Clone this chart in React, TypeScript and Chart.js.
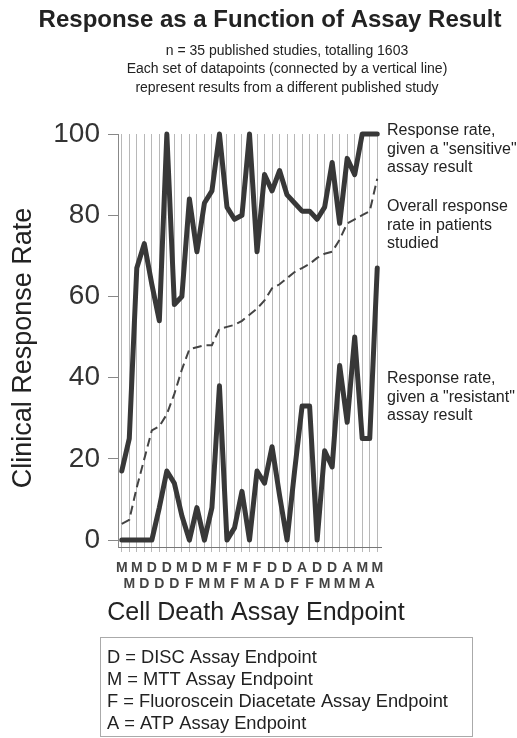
import React, { useEffect, useRef } from "react";
import { Chart, registerables } from "chart.js";

Chart.register(...registerables);

const FONT = '"Liberation Sans", Arial, Helvetica, sans-serif';

const categories = [
  "M", "M", "M", "D", "D", "D", "D", "D", "M", "F",
  "D", "M", "M", "M", "F", "F", "M", "M", "F", "A",
  "D", "D", "D", "F", "A", "F", "D", "M", "D", "M",
  "A", "M", "M", "A", "M",
];

const sensitive = [
  17, 25, 67, 73, 63, 54, 100, 58, 60, 84,
  71, 83, 86, 100, 82, 79, 80, 100, 71, 90,
  86, 91, 85, 83, 81, 81, 79, 82, 93, 78,
  94, 90, 100, 100, 100,
];

const overall = [
  4, 5, 13, 20, 27, 28, 31, 36, 42, 47,
  47.5, 48, 48, 52, 52.5, 53, 54, 55.5, 57, 59,
  62, 63, 64.5, 66, 67, 68, 69.5, 70.5, 71, 74,
  78, 79, 80, 81, 89,
];

const resistant = [
  0, 0, 0, 0, 0, 8, 17, 14, 6, 0,
  8, 0, 8, 38, 0, 3, 12, 0, 17, 14,
  23, 11, 0, 17, 33, 33, 0, 22, 18, 43,
  29, 50, 25, 25, 67,
];

const yTicks = [0, 20, 40, 60, 80, 100];

const titleText = "Response as a Function of Assay Result";
const subtitleLines = [
  "n = 35 published studies, totalling 1603",
  "Each set of datapoints (connected by a vertical line)",
  "represent results from a different published study",
];
const yTitle = "Clinical Response Rate";
const xTitle = "Cell Death Assay Endpoint";
const noteSensitive = ["Response rate,", 'given a "sensitive"', "assay result"];
const noteOverall = ["Overall response", "rate in patients", "studied"];
const noteResistant = ["Response rate,", 'given a "resistant"', "assay result"];
const legendLines = [
  "D = DISC Assay Endpoint",
  "M = MTT Assay Endpoint",
  "F = Fluoroscein Diacetate Assay Endpoint",
  "A = ATP Assay Endpoint",
];

const textPlugin = {
  id: "textPlugin",
  afterDraw(chart: any) {
    const ctx = chart.ctx as CanvasRenderingContext2D;
    ctx.save();
    ctx.fillStyle = "#222";
    ctx.textBaseline = "middle";
    ctx.textAlign = "center";
    ctx.font = `bold 24px ${FONT}`;
    ctx.fillText(titleText, 270, 20);
    ctx.font = `14px ${FONT}`;
    subtitleLines.forEach((t, i) => ctx.fillText(t, 287, 51 + i * 18.5));

    ctx.textAlign = "left";
    ctx.font = `16px ${FONT}`;
    noteSensitive.forEach((t, i) => ctx.fillText(t, 387, 131 + i * 18.5));
    noteOverall.forEach((t, i) => ctx.fillText(t, 387, 207 + i * 18.5));
    noteResistant.forEach((t, i) => ctx.fillText(t, 387, 379 + i * 18.5));

    ctx.save();
    ctx.translate(24, 348);
    ctx.rotate(-Math.PI / 2);
    ctx.textAlign = "center";
    ctx.font = `27px ${FONT}`;
    ctx.fillText(yTitle, 0, 0);
    ctx.restore();

    ctx.textAlign = "center";
    ctx.font = `25px ${FONT}`;
    ctx.fillText(xTitle, 256, 613);

    ctx.strokeStyle = "#aaa";
    ctx.lineWidth = 1;
    ctx.strokeRect(100.5, 637.5, 372, 99);
    ctx.textAlign = "left";
    ctx.font = `18.3px ${FONT}`;
    legendLines.forEach((t, i) => ctx.fillText(t, 107, 658 + i * 22));
    ctx.restore();
  },
};

export default function App() {
  const ref = useRef<HTMLCanvasElement | null>(null);
  useEffect(() => {
    document.body.style.margin = "0";
    const canvas = ref.current;
    if (!canvas) return;
    const lineStyle = {
      borderColor: "#383838",
      borderWidth: 5,
      borderJoinStyle: "round",
      borderCapStyle: "round",
      pointRadius: 0,
      fill: false,
      tension: 0,
      clip: false,
    };
    const chart = new Chart(canvas, {
      type: "line",
      data: {
        labels: categories.map((c, i) => (i % 2 === 0 ? [c, ""] : ["", c])),
        datasets: [
          { label: "sensitive", data: sensitive, ...lineStyle },
          {
            label: "overall",
            data: overall,
            borderColor: "#444",
            borderWidth: 2,
            borderDash: [9, 5],
            pointRadius: 0,
            fill: false,
            tension: 0,
            clip: false,
          },
          { label: "resistant", data: resistant, ...lineStyle },
        ],
      },
      options: {
        responsive: false,
        animation: false,
        devicePixelRatio: 1,
        layout: { padding: { top: 134, right: 136, left: 0, bottom: 0 } },
        plugins: {
          legend: { display: false },
          tooltip: { enabled: false },
          title: { display: false },
        },
        scales: {
          x: {
            offset: true,
            grid: {
              display: true,
              drawOnChartArea: true,
              offset: false,
              color: "rgba(0,0,0,0.28)",
              lineWidth: 1,
              tickLength: 5,
            },
            border: { display: true, color: "#777" },
            ticks: {
              autoSkip: false,
              maxRotation: 0,
              minRotation: 0,
              padding: 8,
              color: "#444",
              font: { family: FONT, size: 14, weight: "bold", lineHeight: 1.15 },
            },
            afterFit(s: any) {
              s.height = 191;
            },
          },
          y: {
            min: -1.7,
            max: 100,
            afterBuildTicks(s: any) {
              s.ticks = yTicks.map((v) => ({ value: v }));
            },
            grid: { drawOnChartArea: false, tickLength: 10, color: "#888" },
            border: { display: true, color: "#888" },
            ticks: {
              padding: 8,
              color: "#333",
              font: { family: FONT, size: 28 },
            },
            afterFit(s: any) {
              s.width = 118;
            },
          },
        },
      },
      plugins: [textPlugin],
    } as any);
    return () => chart.destroy();
  }, []);
  return (
    <div style={{ width: 517, height: 738 }}>
      <canvas ref={ref} width={517} height={738} style={{ display: "block" }} />
    </div>
  );
}
